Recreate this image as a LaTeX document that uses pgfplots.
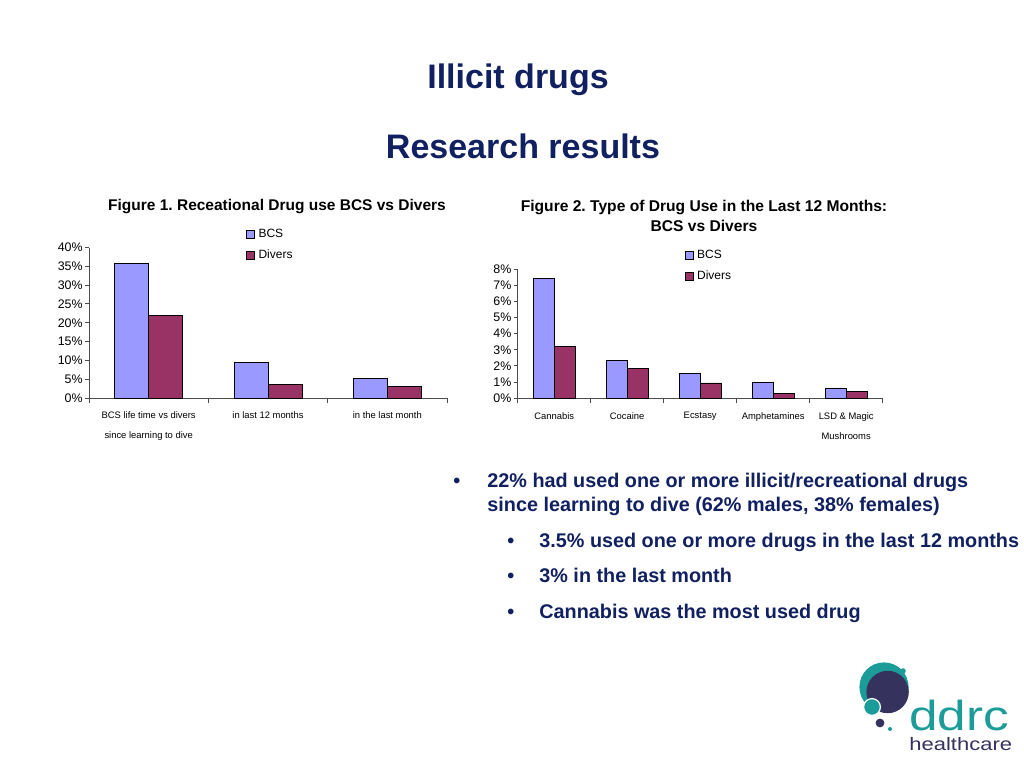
\documentclass[border=0pt]{standalone}
\usepackage{fontspec}
\setmainfont{Liberation Sans}
\usepackage{pgfplots}
\pgfplotsset{compat=1.18}

\definecolor{navy}{HTML}{102060}
\definecolor{bcsc}{HTML}{9999FF}
\definecolor{divc}{HTML}{993366}
\definecolor{ddteal}{HTML}{1C9C98}
\definecolor{ddpurple}{HTML}{35325E}

\pgfplotsset{
  slidebars/.style={
    scale only axis,
    ybar=0pt,
    ymin=0,
    enlarge x limits=false,
    enlarge y limits=false,
    axis x line*=bottom,
    axis y line*=left,
    axis line style={-, black!70, line width=0.5pt},
    tick align=outside,
    major tick length=2pt,
    minor tick length=2.5pt,
    tick style={black!70, line width=0.5pt},
    major x tick style={draw=none},
    yticklabel style={font=\fontsize{6.2}{7}\selectfont, inner sep=1pt},
    xticklabel style={align=center, font=\fontsize{4.7}{10}\selectfont, yshift=-1.5pt},
    legend image code/.code={\draw[#1, draw=black, line width=0.4pt] (0pt,-2pt) rectangle (4pt,2pt); \path[draw=none, fill=none] (0pt,0pt) -- (5pt,0pt);},
    legend cell align=left,
    legend style={draw=none, fill=none, font=\fontsize{6}{7}\selectfont,
      row sep=2.6pt, nodes={inner sep=1pt}},
  },
  bcs/.style={fill=bcsc, draw=black, line width=0.4pt},
  div/.style={fill=divc, draw=black, line width=0.4pt},
}

\begin{document}
\frenchspacing
\begin{tikzpicture}
\path[fill=white] (0,0) rectangle (512pt,384pt);
\useasboundingbox (0,0) rectangle (512pt,384pt);

% slide titles
\node[font=\fontsize{17}{20}\selectfont\bfseries, text=navy] at (259pt,344pt) {Illicit drugs};
\node[font=\fontsize{17}{20}\selectfont\bfseries, text=navy] at (261.5pt,311pt) {Research results};

% Figure 1
\node[font=\fontsize{7.75}{9}\selectfont\bfseries] at (138.5pt,280.5pt) {Figure 1. Receational Drug use BCS vs Divers};
\begin{axis}[slidebars,
  at={(44.5pt,185pt)}, anchor=south west,
  width=179pt, height=75.25pt,
  bar width=17pt,
  xmin=-0.5, xmax=2.5, ymax=40,
  xtick={0,1,2},
  xticklabels={{BCS life time vs divers\\since learning to dive},{in last 12 months},{in the last month}},
  minor xtick={-0.5,0.5,1.5,2.5},
  ytick={0,5,...,40},
  yticklabels={0\%,5\%,10\%,15\%,20\%,25\%,30\%,35\%,40\%},
  legend style={at={(axis description cs:0.421,1.165)}, anchor=north west},
]
\addplot[bcs] coordinates {(0,35.8) (1,9.5) (2,5.3)};
\addplot[div] coordinates {(0,21.9) (1,3.5) (2,3.0)};
\legend{BCS,Divers}
\end{axis}

% Figure 2
\node[font=\fontsize{7.8}{9}\selectfont\bfseries, align=center] at (352pt,276pt) {Figure 2. Type of Drug Use in the Last 12 Months:\\[1pt]BCS vs Divers};
\begin{axis}[slidebars,
  at={(258.85pt,184.85pt)}, anchor=south west,
  width=182.5pt, height=64.65pt,
  bar width=10.5pt,
  xmin=-0.5, xmax=4.5, ymax=8,
  xtick={0,1,2,3,4},
  xticklabels={Cannabis,Cocaine,Ecstasy,Amphetamines,{LSD \& Magic\\Mushrooms}},
  minor xtick={-0.5,0.5,1.5,2.5,3.5,4.5},
  ytick={0,1,...,8},
  yticklabels={0\%,1\%,2\%,3\%,4\%,5\%,6\%,7\%,8\%},
  legend style={at={(axis description cs:0.44,1.195)}, anchor=north west},
]
\addplot[bcs] coordinates {(0,7.42) (1,2.33) (2,1.55) (3,0.99) (4,0.64)};
\addplot[div] coordinates {(0,3.2) (1,1.86) (2,0.95) (3,0.29) (4,0.45)};
\legend{BCS,Divers}
\end{axis}

% bullet points
\begin{scope}[every node/.style={font=\fontsize{9.9}{11}\selectfont\bfseries, text=navy, inner sep=0pt}]
\node[anchor=base west] at (226.5pt,140.25pt) {•};
\node[anchor=base west] at (243.5pt,140.25pt) {22\% had used one or more illicit/recreational drugs};
\node[anchor=base west] at (243.5pt,128.25pt) {since learning to dive (62\% males, 38\% females)};
\node[anchor=base west] at (253.5pt,110.25pt) {•};
\node[anchor=base west] at (269.5pt,110.25pt) {3.5\% used one or more drugs in the last 12 months};
\node[anchor=base west] at (253.5pt,92.75pt) {•};
\node[anchor=base west] at (269.5pt,92.75pt) {3\% in the last month};
\node[anchor=base west] at (253.5pt,74.75pt) {•};
\node[anchor=base west] at (269.5pt,74.75pt) {Cannabis was the most used drug};
\end{scope}

% logo
\fill[ddteal] (442pt,40.5pt) circle (12.3pt);
\fill[ddpurple] (443.8pt,38pt) circle (10.6pt);
\fill[ddteal] (436pt,30.5pt) circle (4.2pt);
\draw[white, line width=0.6pt] (436pt,30.5pt) circle (4.2pt);
\fill[ddteal] (451.5pt,48.5pt) circle (1.4pt);
\fill[ddpurple] (440pt,22.5pt) circle (2.2pt);
\fill[ddteal] (445pt,19.5pt) circle (1pt);
\node[anchor=base west, inner sep=0pt, text=ddteal, font=\fontsize{21}{22}\selectfont, xscale=1.22] at (454.5pt,19pt) {ddrc};
\node[anchor=base west, inner sep=0pt, text=ddpurple, font=\fontsize{9}{10}\selectfont, xscale=1.22] at (454.5pt,9pt) {healthcare};
\end{tikzpicture}
\end{document}
